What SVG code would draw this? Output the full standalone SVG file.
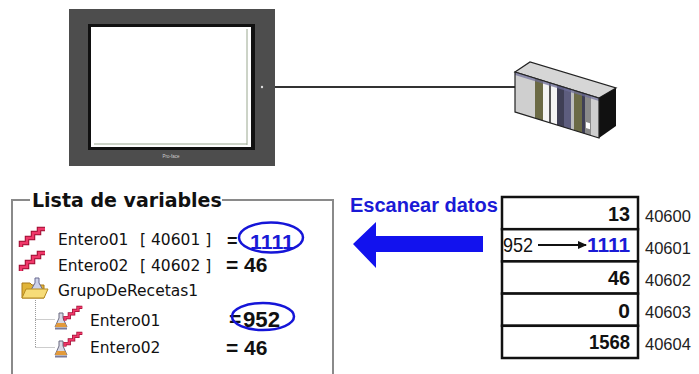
<svg xmlns="http://www.w3.org/2000/svg" width="699" height="374" viewBox="0 0 699 374">
  <defs>
    <style>
      .panel { font-family: "DejaVu Sans", Verdana, sans-serif; font-size: 15.5px; fill: #111; }
      .title { font-family: "DejaVu Sans", Verdana, sans-serif; font-size: 19px; font-weight: bold; fill: #111; }
      .val { font-family: "Liberation Sans", Arial, sans-serif; font-size: 21px; font-weight: bold; fill: #111; }
      .plain { font-weight: normal; }
      .blue { fill: #1a1ad6; }
      .addr { font-family: "Liberation Sans", Arial, sans-serif; font-size: 16.5px; fill: #222; }
      .ring { fill: none; stroke: #1515d8; stroke-width: 2.5; }
      .tree { fill: none; stroke: #9a9a9a; stroke-width: 1; stroke-dasharray: 1 1; }
      .cell { fill: #fff; stroke: #111; stroke-width: 2.5; }
    </style>
    <!-- red "integer" tag icon: staircase -->
    <g id="stepIcon">
      <polyline points="0,20 0,16 6,16 6,11 12,11 12,6 18,6 18,2 24,2" fill="none" stroke="#9c0f33" stroke-width="4.5" stroke-linejoin="miter"/>
      <polyline points="0,20 0,16 6,16 6,11 12,11 12,6 18,6 18,2 24,2" fill="none" stroke="#f0386a" stroke-width="2.5" stroke-linejoin="miter"/>
    </g>
    <!-- small flask icon -->
    <g id="flaskIcon">
      <path d="M4,0 H8 V5 L12,14 H0 L4,5 Z" fill="#d9d9e6" stroke="#6a6a80" stroke-width="1"/>
      <path d="M2,10 H10 L12,14 H0 Z" fill="#e39a3a"/>
      <rect x="0" y="15" width="12" height="1.5" fill="#7a7a9a"/>
    </g>
    <marker id="smallHead" markerWidth="9" markerHeight="8" refX="8" refY="4" orient="auto" markerUnits="userSpaceOnUse">
      <path d="M0,0 L9,4 L0,8 Z" fill="#111"/>
    </marker>
  </defs>

  <rect width="699" height="374" fill="#fff"/>

  <!-- connectors -->
  <g id="connectors">
    <line x1="275" y1="87" x2="516" y2="87" stroke="#333" stroke-width="2"/>
    <polygon points="353,244 376,222 376,236 483,236 483,252 376,252 376,268" fill="#1212ee"/>
  </g>

  <!-- touch panel -->
  <g id="hmi">
    <rect x="69" y="9" width="206" height="157" fill="#4d4d4d"/>
    <rect x="88" y="24" width="167" height="126" fill="#111"/>
    <rect x="91" y="27" width="160" height="120" fill="#fff"/>
    <line x1="247" y1="29" x2="247" y2="145" stroke="#9aa890" stroke-width="1"/>
    <line x1="94" y1="144" x2="247" y2="144" stroke="#9aa890" stroke-width="1"/>
    <circle cx="262" cy="87" r="1.2" fill="#ddd"/>
    <text x="171" y="158" font-family="Liberation Sans, Arial, sans-serif" font-size="4.5" fill="#cfcfcf" text-anchor="middle">Pro-face</text>
  </g>

  <!-- PLC rack -->
  <g id="plc">
    <polygon points="515,72 530,62 616,88 599,98" fill="#d6d6d6" stroke="#222" stroke-width="1.2"/>
    <polygon points="599,98 616,88 616,126 599,138" fill="#111"/>
    <g transform="matrix(1,0.31,0,1,515,72)">
      <rect x="0" y="0" width="84" height="40" fill="#cfcfcf"/>
      <rect x="20" y="0" width="8" height="40" fill="#6b6a45"/>
      <rect x="28" y="2" width="6" height="38" fill="#f4f4f4"/>
      <rect x="34" y="0" width="2" height="40" fill="#555"/>
      <rect x="36" y="2" width="6" height="38" fill="#f4f4f4"/>
      <rect x="42" y="0" width="7" height="40" fill="#3f3f55"/>
      <rect x="49" y="0" width="7" height="40" fill="#5d5d7e"/>
      <rect x="56" y="0" width="3" height="40" fill="#bdbdbd"/>
      <rect x="59" y="0" width="8" height="40" fill="#6b6a45"/>
      <rect x="67" y="0" width="3" height="40" fill="#3f3f55"/>
      <rect x="70" y="0" width="6" height="40" fill="#8a8a8a"/>
      <rect x="71" y="28" width="4" height="6" fill="#fff"/>
      <rect x="0" y="0" width="84" height="3" fill="#6e6e9a" opacity="0.7"/>
      <rect x="0" y="0" width="84" height="40" fill="none" stroke="#222" stroke-width="1.2"/>
    </g>
  </g>

  <!-- variable list panel -->
  <g id="variable-list">
    <path d="M30,200 H12 V374 M222,200 H333 V374" fill="none" stroke="#8a8a8a" stroke-width="2"/>
    <text class="title" x="32" y="207">Lista de variables</text>

    <use href="#stepIcon" x="21" y="227"/>
    <text class="panel" x="58" y="245">Entero01</text>
    <text class="panel" x="140" y="245">[ 40601 ]</text>
    <text class="val" x="227" y="247" style="font-size:18px">=</text>
    <text class="val blue" x="250" y="249" textLength="44" lengthAdjust="spacingAndGlyphs">1111</text>
    <ellipse class="ring" cx="271" cy="237.5" rx="32" ry="15"/>

    <use href="#stepIcon" x="21" y="251"/>
    <text class="panel" x="58" y="271">Entero02</text>
    <text class="panel" x="140" y="271">[ 40602 ]</text>
    <text class="val" x="226" y="272">= 46</text>

    <!-- recipe group folder -->
    <g>
      <path d="M22,283 H30 L32,285 H44 V298 H22 Z" fill="#e0b43a" stroke="#a87818" stroke-width="1"/>
      <path d="M35,278 H39 V283 L43,290 H31 L35,283 Z" fill="#cdd2ea" stroke="#6a6a90" stroke-width="1"/>
      <path d="M22,298 L26,289 H48 L44,298 Z" fill="#f7dc78" stroke="#b58a20" stroke-width="1"/>
    </g>
    <text class="panel" x="58" y="296">GrupoDeRecetas1</text>

    <path class="tree" d="M35.5,300 V347.5 M35.5,319.5 H55 M35.5,347.5 H55"/>

    <use href="#flaskIcon" x="55" y="313"/>
    <use href="#stepIcon" transform="translate(65,306) scale(0.72)"/>
    <text class="panel" x="90" y="326">Entero01</text>
    <text class="val" x="229" y="326">=</text>
    <text class="val" x="243" y="327" style="font-size:22px" textLength="37" lengthAdjust="spacingAndGlyphs">952</text>
    <ellipse class="ring" cx="263" cy="316.5" rx="31" ry="13.5"/>

    <use href="#flaskIcon" x="55" y="341"/>
    <use href="#stepIcon" transform="translate(65,332) scale(0.72)"/>
    <text class="panel" x="90" y="353">Entero02</text>
    <text class="val" x="226" y="355">= 46</text>
  </g>

  <!-- scan label -->
  <g id="scan-label">
    <text class="val blue" x="350" y="212" style="font-size:20px">Escanear datos</text>
  </g>

  <!-- register table -->
  <g id="registers">
    <rect class="cell" x="502" y="197" width="136" height="32.2"/>
    <rect class="cell" x="502" y="229.2" width="136" height="32.2"/>
    <rect class="cell" x="502" y="261.4" width="136" height="32.2"/>
    <rect class="cell" x="502" y="293.6" width="136" height="32.2"/>
    <rect class="cell" x="502" y="325.8" width="136" height="32.2"/>

    <text class="val" x="608" y="221" textLength="22" lengthAdjust="spacingAndGlyphs">13</text>
    <text class="val plain" x="503" y="252" textLength="30" lengthAdjust="spacingAndGlyphs">952</text>
    <line x1="538" y1="245" x2="586" y2="245" stroke="#111" stroke-width="2" marker-end="url(#smallHead)"/>
    <text class="val blue" x="587" y="252" textLength="43" lengthAdjust="spacingAndGlyphs">1111</text>
    <text class="val" x="608" y="285" textLength="22" lengthAdjust="spacingAndGlyphs">46</text>
    <text class="val" x="630" y="318" text-anchor="end">0</text>
    <text class="val" x="589" y="349" textLength="41" lengthAdjust="spacingAndGlyphs">1568</text>

    <text class="addr" x="645" y="222">40600</text>
    <text class="addr" x="645" y="254">40601</text>
    <text class="addr" x="645" y="286">40602</text>
    <text class="addr" x="645" y="318">40603</text>
    <text class="addr" x="645" y="350">40604</text>
  </g>
</svg>
